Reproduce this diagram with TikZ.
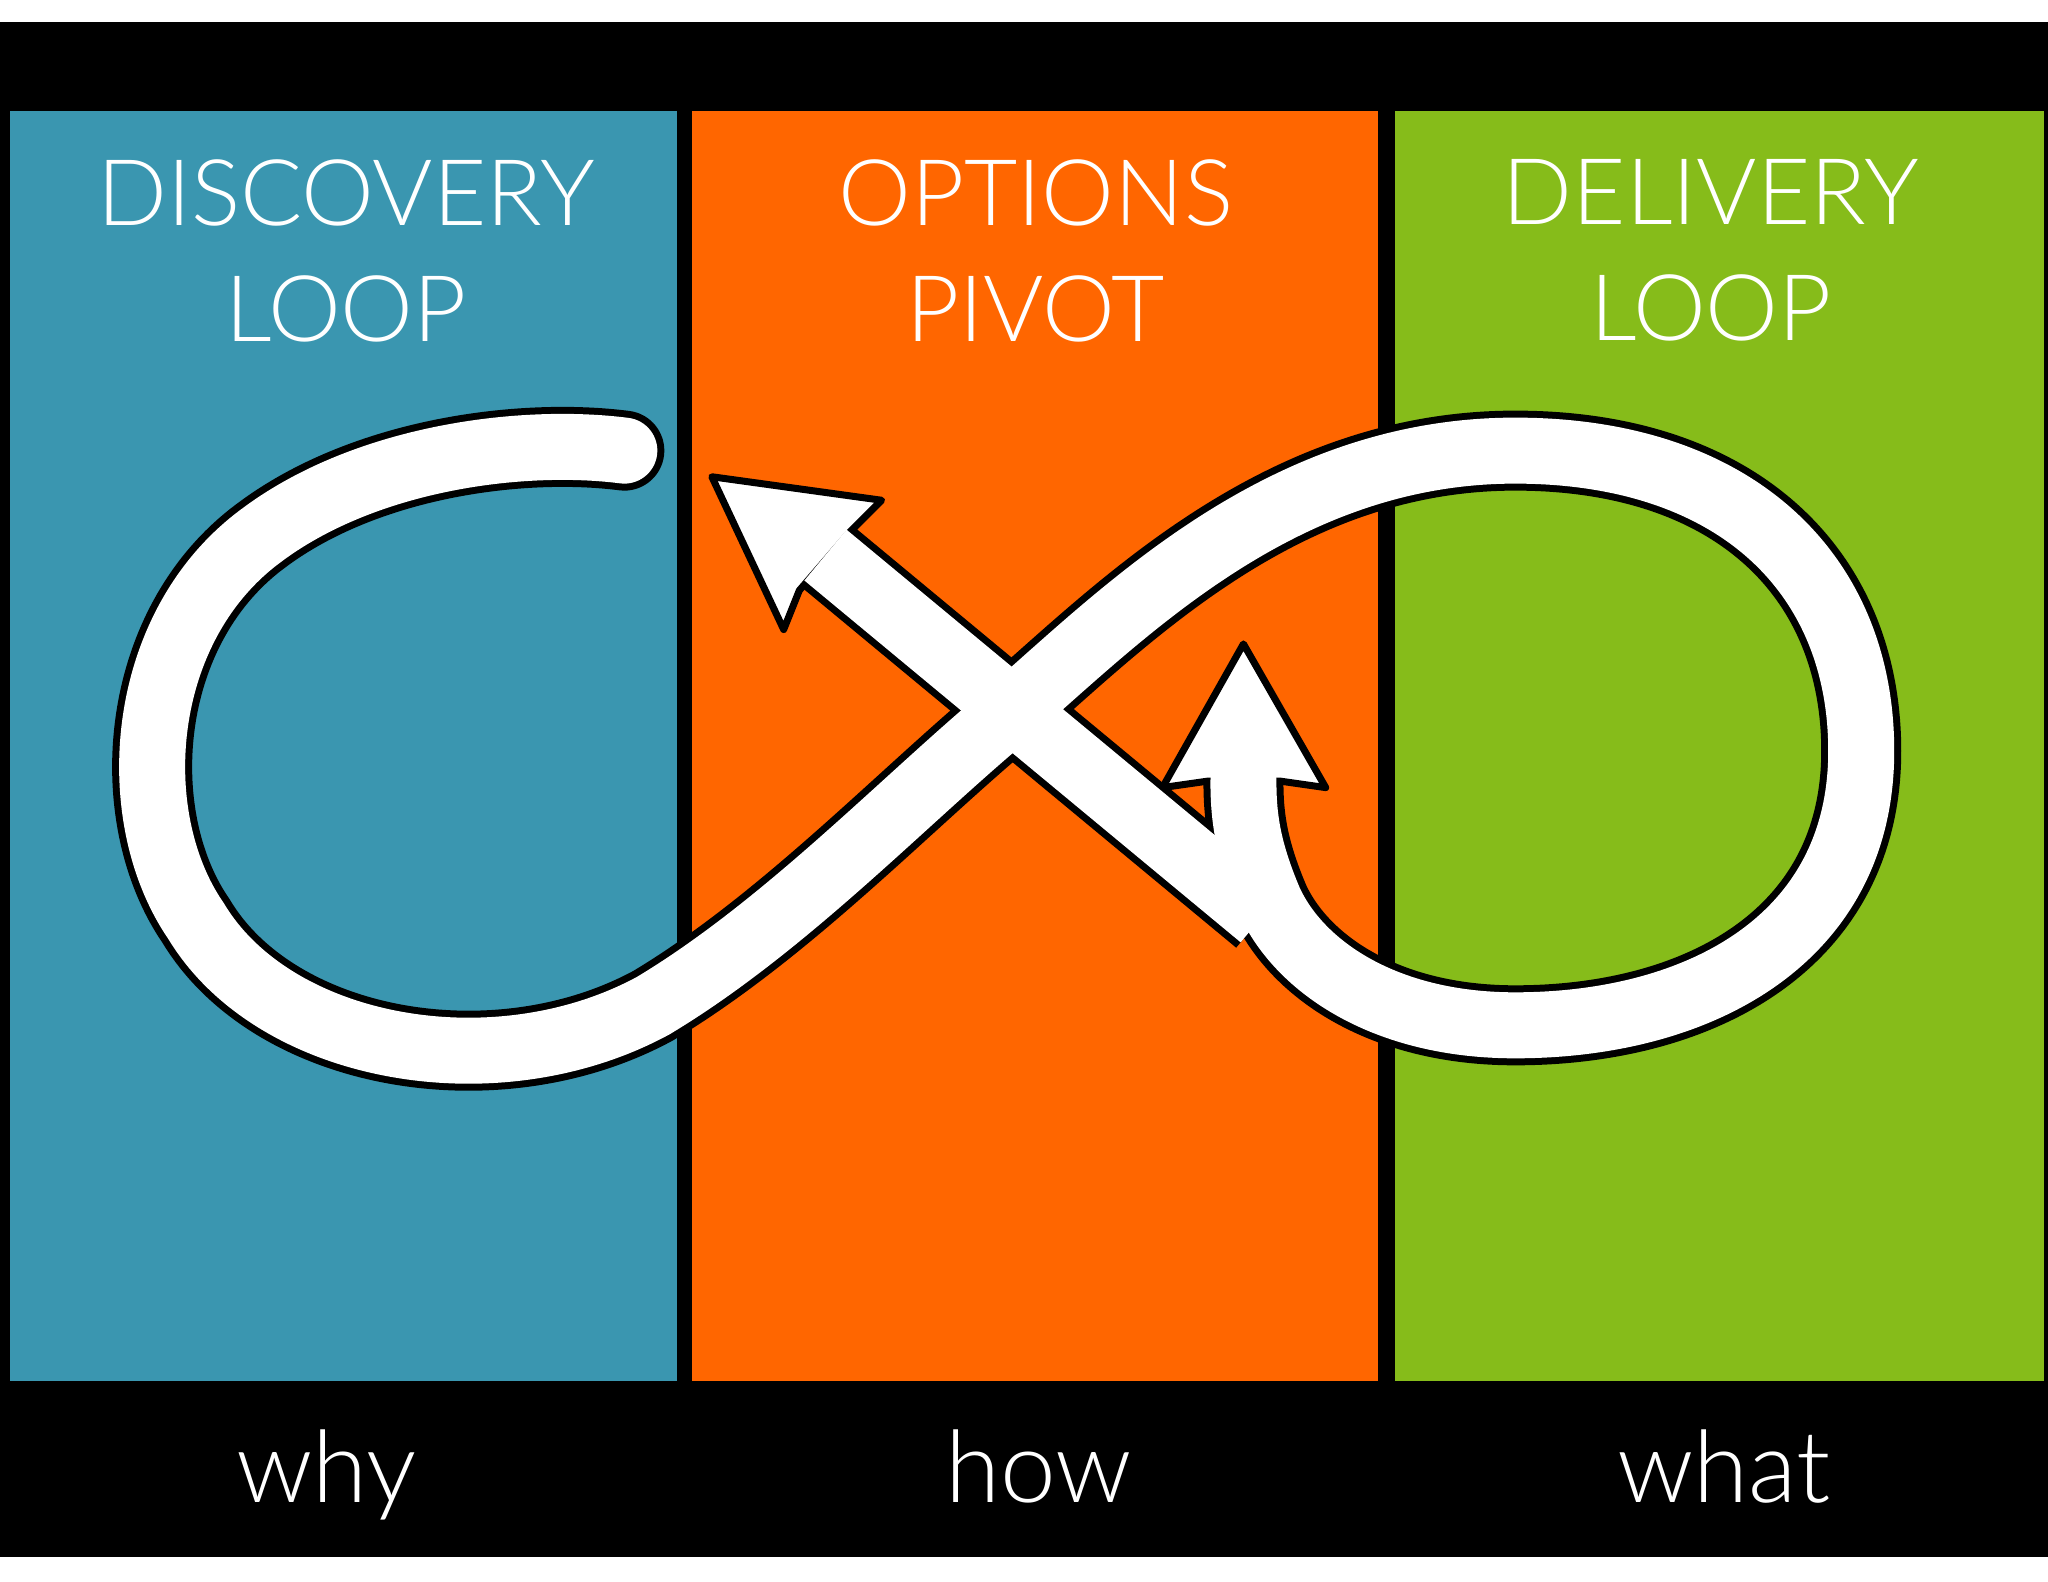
\documentclass[tikz,border=0pt]{standalone}
\usepackage{fontspec}
\setmainfont{Lato Light}
\usepackage{tikz}
\definecolor{discblue}{HTML}{3A96B0}
\definecolor{pivotorange}{HTML}{FF6600}
\definecolor{delivgreen}{HTML}{86BC1A}
\tikzset{
  paneltext/.style={text=white,font=\fontsize{46}{56}\selectfont,align=center,inner sep=0pt},
  bottomtext/.style={text=white,font=\fontsize{50}{60}\selectfont,inner sep=0pt},
  loopout/.style={draw=black,line width=40,line cap=round},
  loopin/.style={draw=white,line width=33,line cap=round},
  tiphead/.style={fill=white,draw=black,line width=3.5,line join=round}
}
\begin{document}
\begin{tikzpicture}[x=0.653pt,y=0.653pt,yscale=-1,xscale=1]
\useasboundingbox (0,0) rectangle (1568,1211);
\fill[white] (0,0) rectangle (1568,1211);

%Bands
\fill[black] (0,17) rectangle (1568,1192);
\fill[discblue] (8,85) rectangle (518,1057);
\fill[pivotorange] (530,85) rectangle (1055,1057);
\fill[delivgreen] (1068,85) rectangle (1565,1057);

% Text Node
\node (disc) [paneltext] at (265,192) {DISCOVERY\\[2pt]LOOP};
% Text Node
\node (opts) [paneltext] at (793,192) {OPTIONS\\[2pt]PIVOT};
% Text Node
\node (deliv) [paneltext] at (1310,192) {DELIVERY\\[2pt]LOOP};
% Text Node
\node (why) [bottomtext,anchor=base] at (250,1150) {why};
% Text Node
\node (how) [bottomtext,anchor=base] at (795,1150) {how};
% Text Node
\node (what) [bottomtext,anchor=base] at (1320,1150) {what};

%Loop
\def\looppath{(478,345) .. controls (400,335) and (280,350) .. (200,410) .. controls (105,480) and (95,625) .. (150,705) .. controls (210,805) and (380,835) .. (500,770) .. controls (600,710) and (690,615) .. (770,548) .. controls (860,470) and (980,345) .. (1160,345) .. controls (1330,345) and (1425,440) .. (1425,575) .. controls (1425,720) and (1300,785) .. (1160,785) .. controls (1060,785) and (995,740) .. (972,690) .. controls (955,650) and (952,625) .. (952,598)}
\coordinate (tipa) at (545,365);
\coordinate (tipb) at (952,493);
\coordinate (forka) at (966,702);
\coordinate (necka) at (632,425);
\draw[loopout] \looppath;
\draw[loopout,line cap=butt] (forka) -- (necka);
\draw[tiphead] (tipa) -- (675,383) -- (650,408) -- (612,452) -- (600,482) -- cycle;
\draw[tiphead] (tipb) -- (1015,603) -- (980,598) -- (925,598) -- (890,603) -- cycle;
\draw[loopin] \looppath;
\draw[loopin,line cap=butt] (forka) -- (necka);
\end{tikzpicture}
\end{document}
